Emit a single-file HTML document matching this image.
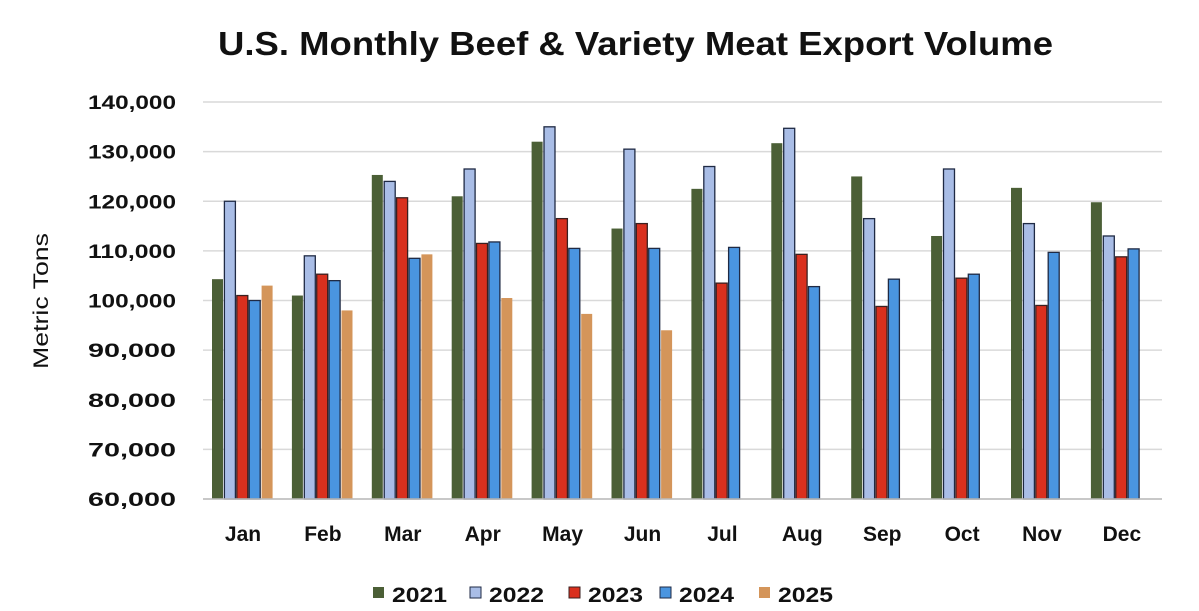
<!DOCTYPE html>
<html><head><meta charset="utf-8"><style>
body{margin:0;background:#fff;}
svg{display:block;font-family:"Liberation Sans",sans-serif;}
</style></head><body>
<svg id="c" width="1199" height="611" xmlns="http://www.w3.org/2000/svg"></svg>
<script>
const s=document.getElementById('c');
let h='';
h+='<text x="218" y="55" textLength="835" lengthAdjust="spacingAndGlyphs" font-size="33" font-weight="bold" fill="#111">U.S. Monthly Beef &amp; Variety Meat Export Volume</text>';
h+='<text transform="translate(48,301) rotate(-90)" text-anchor="middle" textLength="136" lengthAdjust="spacingAndGlyphs" font-size="21" fill="#111">Metric Tons</text>';
const y=v=>499-(v-60)*4.9625;
for(let v=60;v<=140;v+=10){
  const yy=y(v);
  h+=`<line x1="203" x2="1162" y1="${yy}" y2="${yy}" stroke="#d9d9d9" stroke-width="1.5"/>`;
  h+=`<text x="88" y="${yy+7}" textLength="88" lengthAdjust="spacingAndGlyphs" font-size="19" font-weight="bold" fill="#111">${v},000</text>`;
}
const m=['Jan','Feb','Mar','Apr','May','Jun','Jul','Aug','Sep','Oct','Nov','Dec'];
const d=[[104.3,120,101,100,103],[101,109,105.3,104,98],[125.3,124,120.7,108.5,109.3],[121,126.5,111.5,111.8,100.5],[132,135,116.5,110.5,97.3],[114.5,130.5,115.5,110.5,94],[122.5,127,103.5,110.7],[131.7,134.7,109.3,102.8],[125,116.5,98.8,104.3],[113,126.5,104.5,105.3],[122.7,115.5,99,109.7],[119.8,113,108.8,110.4]];
const col=['#4b5f36','#a9bde6','#d9301e','#4a95e0','#d4955a'];
const bd=[null,'#1f2a44','#3a2020','#1f2a44',null];
for(let i=0;i<12;i++){
  const cx=243+i*79.9;
  d[i].forEach((v,k)=>{
    const x=cx-31+k*12.4, yy=y(v);
    h+=`<rect x="${x}" y="${yy}" width="11" height="${499-yy}" fill="${col[k]}" ${bd[k]?`stroke="${bd[k]}" stroke-width="1.3"`:''}/>`;
  });
  h+=`<text x="${cx}" y="541" text-anchor="middle" font-size="21" font-weight="bold" fill="#111">${m[i]}</text>`;
}
h+='<line x1="203" x2="1162" y1="499" y2="499" stroke="#bbb" stroke-width="1.5"/>';
const lx=[373,470,569,660,759],yr=['2021','2022','2023','2024','2025'];
lx.forEach((x,k)=>{
  h+=`<rect x="${x}" y="587" width="11" height="11" fill="${col[k]}" ${bd[k]?`stroke="${bd[k]}" stroke-width="1"`:''}/>`;
  h+=`<text x="${x+19}" y="602" textLength="55" lengthAdjust="spacingAndGlyphs" font-size="21" font-weight="bold" fill="#111">${yr[k]}</text>`;
});
s.innerHTML=h;
</script>
</body></html>
